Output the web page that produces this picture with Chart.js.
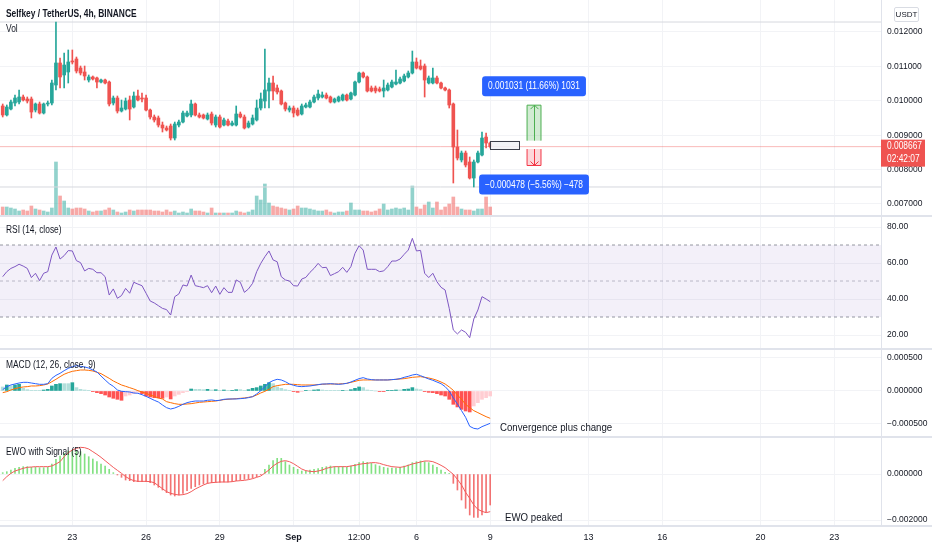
<!DOCTYPE html>
<html lang="en">
<head>
<meta charset="UTF-8">
<title>Selfkey / TetherUS, 4h</title>
<script src="https://cdn.jsdelivr.net/npm/chart.js"></script>
<style>
  body { margin: 0; background: #fff; color: #131722;
         font-family: 'Liberation Sans', Arial, sans-serif; }
  #wrap { position: relative; width: 932px; height: 550px; overflow: hidden; }
  canvas { position: absolute; left: 0; }
  .sep { position: absolute; left: 0; width: 932px; height: 2px; background: #e0e3eb; }
  .txt { position: absolute; white-space: nowrap; font-size: 10px; line-height: 12px;
         transform: scaleX(0.84); transform-origin: 0 0; }
  #usdt { position: absolute; left: 894px; top: 7px; width: 23px; height: 13px; border: 1px solid #d9dce3;
          border-radius: 2px; font-size: 8px; line-height: 13px; text-align: center; color: #131722; }
</style>
</head>
<body>
<div id="wrap">
  <canvas id="cPrice" width="932" height="215" style="top:0"></canvas>
  <div class="sep" style="top:215px"></div>
  <canvas id="cRsi" width="932" height="131" style="top:217px"></canvas>
  <div class="sep" style="top:348px"></div>
  <canvas id="cMacd" width="932" height="86" style="top:350px"></canvas>
  <div class="sep" style="top:436px"></div>
  <canvas id="cEwo" width="932" height="112" style="top:438px"></canvas>
  <div class="sep" style="top:525px"></div>

  <div class="txt" style="left:6px; top:8px; font-weight:bold;">Selfkey / TetherUS, 4h, BINANCE</div>
  <div class="txt" style="left:6px; top:23px;">Vol</div>
  <div class="txt" style="left:6px; top:224px;">RSI (14, close)</div>
  <div class="txt" style="left:6px; top:359px;">MACD (12, 26, close, 9)</div>
  <div class="txt" style="left:6px; top:446px;">EWO with Signal (5)</div>
  <div class="txt" style="left:500px; top:420px; font-size:11.5px; line-height:14px;">Convergence plus change</div>
  <div class="txt" style="left:505px; top:510px; font-size:11.5px; line-height:14px;">EWO peaked</div>
  <div id="usdt">USDT</div>
</div>

<script>
// 4h candles, Aug 19 -> Sep 9 (index 0 .. 119)
const open = [
  0.009849, 0.009587, 0.009761, 0.009936, 0.009965, 0.010110, 0.010052, 0.010052, 0.009732, 0.009907,
  0.009645, 0.009907, 0.009936, 0.010459, 0.011099, 0.010750, 0.010837, 0.011157, 0.011215, 0.010953,
  0.010837, 0.010604, 0.010692, 0.010663, 0.010546, 0.010604, 0.010546, 0.009936, 0.010081, 0.009703,
  0.009761, 0.010023, 0.009819, 0.010139, 0.010081, 0.010081, 0.009732, 0.009529, 0.009500, 0.009296,
  0.009209, 0.009267, 0.008918, 0.009296, 0.009383, 0.009558, 0.009587, 0.009907, 0.009587, 0.009587,
  0.009471, 0.009616, 0.009296, 0.009529, 0.009296, 0.009412, 0.009296, 0.009296, 0.009616, 0.009529,
  0.009238, 0.009325, 0.009442, 0.009790, 0.009994, 0.010285, 0.010517, 0.010372, 0.010285, 0.009936,
  0.009732, 0.009790, 0.009732, 0.009616, 0.009819, 0.009819, 0.009965, 0.010081, 0.010110, 0.010168,
  0.010110, 0.009965, 0.009994, 0.010023, 0.010168, 0.010052, 0.010168, 0.010546, 0.010808, 0.010692,
  0.010372, 0.010372, 0.010343, 0.010285, 0.010314, 0.010401, 0.010488, 0.010517, 0.010575, 0.010692,
  0.010808, 0.011128, 0.011011, 0.011011, 0.010517, 0.010517, 0.010663, 0.010517, 0.010372, 0.010314,
  0.009907, 0.008657, 0.008279, 0.008482, 0.008221, 0.007755, 0.008221, 0.008424, 0.008947, 0.008773
];
const high = [
  0.009907, 0.009878, 0.010023, 0.010168, 0.010314, 0.010168, 0.010110, 0.010110, 0.009936, 0.009965,
  0.009936, 0.009994, 0.010604, 0.012290, 0.011244, 0.011389, 0.011477, 0.011477, 0.011273, 0.011011,
  0.011011, 0.010750, 0.010721, 0.010692, 0.010634, 0.010634, 0.010575, 0.010139, 0.010139, 0.010023,
  0.010081, 0.010139, 0.010256, 0.010314, 0.010227, 0.010168, 0.009761, 0.009587, 0.009558, 0.009383,
  0.009267, 0.009325, 0.009383, 0.009442, 0.009703, 0.009703, 0.010023, 0.009936, 0.009645, 0.009616,
  0.009645, 0.009674, 0.009587, 0.009587, 0.009500, 0.009471, 0.009412, 0.009849, 0.009674, 0.009587,
  0.009412, 0.009587, 0.010023, 0.010227, 0.011506, 0.010663, 0.010721, 0.010459, 0.010314, 0.009965,
  0.009849, 0.009849, 0.009790, 0.009907, 0.009936, 0.010023, 0.010168, 0.010314, 0.010256, 0.010227,
  0.010139, 0.010081, 0.010139, 0.010197, 0.010197, 0.010256, 0.010575, 0.010837, 0.010837, 0.010721,
  0.010430, 0.010430, 0.010401, 0.010604, 0.010517, 0.010604, 0.010895, 0.010692, 0.010779, 0.010866,
  0.011447, 0.011244, 0.011186, 0.011070, 0.010721, 0.010953, 0.010721, 0.010546, 0.010401, 0.010343,
  0.009936, 0.009151, 0.008540, 0.008540, 0.008366, 0.008279, 0.008540, 0.009093, 0.009064, 0.008802
];
const low = [
  0.009529, 0.009558, 0.009732, 0.009849, 0.009907, 0.009994, 0.009936, 0.009500, 0.009674, 0.009616,
  0.009616, 0.009849, 0.009878, 0.010314, 0.010372, 0.010372, 0.010517, 0.011070, 0.010808, 0.010750,
  0.010604, 0.010546, 0.010604, 0.010372, 0.010517, 0.010488, 0.009849, 0.009878, 0.009645, 0.009674,
  0.009732, 0.009442, 0.009790, 0.009994, 0.009965, 0.009703, 0.009471, 0.009383, 0.009238, 0.009093,
  0.009122, 0.008860, 0.008860, 0.009238, 0.009354, 0.009529, 0.009529, 0.009558, 0.009500, 0.009471,
  0.009442, 0.009296, 0.009238, 0.009209, 0.009267, 0.009267, 0.009267, 0.009267, 0.009500, 0.009180,
  0.009209, 0.009296, 0.009412, 0.009732, 0.009790, 0.009790, 0.010023, 0.010197, 0.009878, 0.009703,
  0.009674, 0.009529, 0.009558, 0.009587, 0.009790, 0.009790, 0.009936, 0.010023, 0.010081, 0.010052,
  0.009936, 0.009936, 0.009965, 0.009994, 0.009994, 0.010023, 0.010139, 0.010517, 0.010663, 0.010256,
  0.010256, 0.010227, 0.010256, 0.010110, 0.010285, 0.010372, 0.010459, 0.010488, 0.010546, 0.010663,
  0.010779, 0.010924, 0.010895, 0.010110, 0.010488, 0.010488, 0.010488, 0.010343, 0.010285, 0.009790,
  0.007610, 0.008279, 0.008221, 0.008076, 0.007726, 0.007494, 0.008192, 0.008395, 0.008628, 0.008628
];
const close = [
  0.009587, 0.009819, 0.009965, 0.010081, 0.010110, 0.010023, 0.009994, 0.009674, 0.009907, 0.009645,
  0.009907, 0.009936, 0.010517, 0.011099, 0.010692, 0.011040, 0.011128, 0.011128, 0.010866, 0.010808,
  0.010721, 0.010692, 0.010634, 0.010546, 0.010604, 0.010517, 0.009907, 0.010081, 0.009703, 0.009790,
  0.009994, 0.009761, 0.010139, 0.010023, 0.010052, 0.009732, 0.009529, 0.009442, 0.009296, 0.009209,
  0.009151, 0.008918, 0.009325, 0.009383, 0.009645, 0.009645, 0.009907, 0.009587, 0.009529, 0.009500,
  0.009587, 0.009354, 0.009529, 0.009238, 0.009442, 0.009296, 0.009354, 0.009616, 0.009529, 0.009209,
  0.009354, 0.009500, 0.009790, 0.010052, 0.010314, 0.010517, 0.010285, 0.010256, 0.009907, 0.009761,
  0.009790, 0.009645, 0.009587, 0.009849, 0.009878, 0.009965, 0.010110, 0.010197, 0.010168, 0.010081,
  0.009965, 0.010052, 0.010110, 0.010168, 0.010023, 0.010227, 0.010546, 0.010808, 0.010692, 0.010285,
  0.010285, 0.010285, 0.010285, 0.010372, 0.010459, 0.010546, 0.010546, 0.010634, 0.010721, 0.010808,
  0.011128, 0.010953, 0.010924, 0.010604, 0.010663, 0.010663, 0.010517, 0.010372, 0.010314, 0.009878,
  0.008657, 0.008337, 0.008482, 0.008134, 0.007755, 0.008221, 0.008482, 0.008918, 0.008773, 0.008667
];
// volume, millions KEY
const volume = [
  8, 8, 7, 6, 4, 5, 4, 9, 6, 5,
  4, 3, 7, 53, 19, 14, 7, 6, 7, 7,
  6, 4, 3, 4, 4, 5, 7, 5, 3, 2,
  3, 5, 4, 5, 5, 5, 5, 4, 4, 3,
  5, 3, 4, 2, 3, 2, 6, 4, 4, 3,
  2, 7, 2, 2, 2, 2, 2, 4, 3, 2,
  3, 5, 19, 15, 31, 12, 9, 8, 7, 6,
  5, 6, 9, 7, 7, 6, 5, 4, 4, 5,
  3, 2, 3, 3, 4, 12, 5, 5, 4, 4,
  3, 4, 6, 11, 5, 6, 7, 6, 7, 5,
  29, 8, 6, 10, 13, 7, 13, 5, 8, 11,
  18, 8, 6, 5, 5, 4, 6, 6, 18, 8
];
const rsi = [
  52.4, 55.2, 57.0, 58.0, 59.3, 58.3, 57.0, 51.9, 54.3, 50.2,
  54.3, 55.2, 64.4, 68.9, 62.2, 64.1, 66.9, 66.7, 61.3, 60.2,
  55.6, 57.0, 56.5, 54.6, 54.6, 52.4, 42.2, 45.6, 40.4, 41.9,
  45.9, 43.2, 49.3, 48.3, 47.4, 43.2, 38.9, 37.8, 36.3, 34.8,
  34.1, 31.1, 41.3, 42.8, 47.8, 47.2, 53.3, 47.4, 46.9, 46.3,
  47.4, 43.5, 47.2, 42.6, 46.3, 43.7, 43.7, 50.6, 49.3, 43.7,
  45.6, 48.7, 55.2, 59.8, 63.5, 66.7, 61.7, 60.7, 52.4, 50.6,
  50.0, 47.4, 47.2, 51.1, 52.0, 54.8, 57.0, 59.8, 57.4, 57.6,
  53.0, 54.1, 55.2, 57.6, 54.8, 58.0, 65.4, 69.6, 67.2, 56.5,
  56.5, 56.5, 55.2, 55.6, 58.0, 61.1, 61.1, 62.2, 64.8, 67.2,
  73.7, 66.7, 67.0, 54.3, 51.9, 54.3, 49.6, 46.5, 45.0, 34.8,
  22.8, 20.6, 22.8, 21.5, 18.5, 28.9, 33.9, 41.3, 40.0, 38.5
];
// MACD values in units of 1e-6
const macdLine = [
  20, 66, 91, 106, 121, 131, 131, 121, 111, 101,
  101, 111, 192, 237, 268, 308, 343, 369, 384, 374,
  364, 348, 318, 288, 227, 167, 111, 71, 15, -5,
  -10, -15, -30, -35, -56, -81, -111, -141, -167, -212,
  -253, -273, -258, -232, -202, -177, -162, -152, -152, -152,
  -141, -136, -146, -141, -126, -121, -121, -121, -116, -111,
  -101, -86, -45, 5, 66, 126, 157, 177, 167, 141,
  106, 86, 71, 66, 71, 76, 86, 96, 106, 106,
  111, 106, 101, 106, 116, 136, 162, 187, 202, 182,
  172, 167, 167, 167, 167, 172, 177, 187, 207, 222,
  242, 253, 232, 207, 182, 162, 136, 111, 66, 0,
  -106, -197, -298, -399, -535, -566, -576, -540, -515, -490
];
const macdSignal = [
  -25, -10, 15, 35, 50, 61, 66, 76, 76, 81,
  91, 106, 141, 177, 217, 253, 278, 298, 308, 318,
  318, 313, 303, 283, 263, 227, 192, 152, 121, 91,
  71, 50, 30, 5, -15, -35, -61, -81, -106, -121,
  -162, -177, -192, -202, -202, -197, -192, -182, -172, -167,
  -162, -157, -152, -141, -131, -126, -121, -116, -111, -106,
  -96, -86, -61, -30, -5, 25, 66, 81, 91, 101,
  101, 101, 96, 91, 91, 91, 91, 96, 101, 106,
  106, 106, 106, 111, 116, 131, 146, 162, 167, 167,
  167, 167, 167, 167, 167, 172, 177, 182, 187, 197,
  207, 212, 217, 207, 197, 182, 162, 136, 106, 61,
  10, -61, -126, -202, -253, -298, -328, -359, -389, -414
];
const macdHist = [
  61, 91, 76, 91, 101, 40, 20, 10, 10, 10,
  15, 25, 76, 101, 111, 111, 111, 126, 51, 25,
  15, 5, -10, -25, -40, -61, -91, -111, -126, -141,
  -76, -61, -40, -20, -40, -76, -91, -101, -106, -111,
  -91, -121, -76, -51, -25, -10, 30, 25, 25, 20,
  25, 15, 20, 10, 15, 5, 10, 20, 20, 10,
  20, 40, 51, 76, 101, 126, 111, 61, 40, 20,
  10, -10, -20, -10, 5, 5, 15, 20, 15, 10,
  10, 5, 5, 10, 10, 20, 40, 61, 51, 15,
  5, 0, -5, -5, 5, 10, 15, 15, 25, 30,
  51, 30, 20, -10, -20, -25, -40, -61, -76, -126,
  -202, -242, -278, -303, -318, -227, -177, -126, -101, -76
];
// Elliott Wave Oscillator, units of 1e-6
const ewoHist = [
  58, 101, 174, 246, 290, 319, 319, 290, 290, 275,
  275, 290, 435, 638, 782, 898, 1000, 1043, 1014, 971,
  869, 753, 652, 536, 435, 348, 203, 58, -43, -145,
  -261, -290, -333, -333, -333, -333, -377, -478, -580, -696,
  -811, -913, -956, -913, -840, -725, -623, -551, -478, -435,
  -406, -377, -362, -362, -348, -348, -319, -290, -261, -232,
  -217, -174, -116, -14, 203, 391, 580, 681, 681, 536,
  391, 290, 203, 130, 130, 174, 203, 232, 290, 319,
  348, 319, 319, 319, 290, 348, 420, 493, 536, 507,
  464, 406, 348, 290, 261, 261, 261, 290, 348, 391,
  493, 536, 565, 536, 493, 391, 290, 174, 72, 29,
  -406, -696, -1130, -1492, -1782, -1884, -1884, -1782, -1637, -1348
];
const ewoSignal = [
  -290, -116, 29, 130, 188, 246, 290, 304, 319, 319,
  319, 319, 348, 435, 536, 753, 927, 1043, 1116, 1159,
  1145, 1087, 971, 855, 725, 580, 435, 290, 159, 29,
  -116, -217, -290, -319, -319, -319, -333, -377, -507, -638,
  -768, -840, -884, -913, -898, -855, -768, -652, -565, -478,
  -406, -377, -362, -348, -348, -348, -333, -304, -290, -275,
  -246, -203, -145, -87, 43, 174, 348, 464, 551, 580,
  536, 449, 333, 217, 145, 116, 101, 130, 174, 246,
  290, 319, 319, 319, 319, 348, 377, 420, 449, 464,
  493, 493, 464, 406, 362, 319, 304, 290, 319, 377,
  435, 478, 522, 565, 565, 536, 464, 377, 275, 130,
  -14, -232, -478, -797, -1058, -1348, -1536, -1623, -1681, -1637
];

// time axis: candle index of each date label
const xTickPos = [17, 35, 53, 71, 87, 101, 119, 143, 161, 185, 203];
const xTickLabels = ['23', '26', '29', 'Sep', '12:00', '6', '9', '13', '16', '20', '23'];

const priceTicks = [0.007, 0.008, 0.009, 0.010, 0.011, 0.012];
const rsiTicks = [20, 40, 60, 80];
const macdTicks = [-0.0005, 0, 0.0005];
const ewoTicks = [-0.002, 0];

// horizontal lines drawn on the chart (swing high / swing low)
const hLevels = [0.012290, 0.007494];
const countdown = '02:42:07';
// price range measurements
const ranges = [
  { x0: 128, x1: 131.4, from: 0.008842, to: 0.009873, text: '0.001031 (11.66%) 1031' },
  { x0: 128, x1: 131.4, from: 0.008597, to: 0.008119, text: '\u22120.000478 (\u22125.56%) \u2212478' }
];
const posBox = { x0: 119, x1: 126.1, top: 0.008842, bottom: 0.008597 };

const X_MIN = -0.66, X_MAX = 214.4;
const FAMILY = "'Liberation Sans', Arial, sans-serif";
const SQUEEZE = 0.84;
const UP = '#26a69a', DOWN = '#ef5350';
const GRID = '#f2f3f6';

const idx = close.map((c, i) => i);
const lastClose = close[close.length - 1];
const minus = s => s.replace('-', '\u2212');

const candleColors = idx.map(i => close[i] >= open[i] ? UP : DOWN);
const volColors = idx.map(i => close[i] >= open[i] ? 'rgba(38,166,154,0.5)' : 'rgba(239,83,80,0.5)');
const macdColors = macdHist.map((v, i) => {
  const prev = i > 0 ? macdHist[i - 1] : v;
  if (v >= 0) return prev < v ? '#26a69a' : '#b2dfdb';
  return prev < v ? '#ffcdd2' : '#ff5252';
});
const ewoColors = ewoHist.map(v => v >= 0 ? 'rgba(90,215,90,0.75)' : 'rgba(240,80,80,0.8)');

function xAxis(labels) {
  return {
    type: 'linear', min: X_MIN, max: X_MAX, offset: false,
    afterBuildTicks: s => { s.ticks = xTickPos.map(v => ({ value: v })); },
    afterFit: s => { s.height = labels ? 25 : 0; s.paddingLeft = 0; s.paddingRight = 0; },
    grid: { color: GRID, drawTicks: false, offset: false },
    border: { display: false },
    ticks: {
      display: labels, autoSkip: false, maxRotation: 0, padding: 7, color: '#131722',
      font: c => ({ family: FAMILY, size: 9, weight: c.index === 3 ? 'bold' : 'normal' }),
      callback: (v, i) => xTickLabels[i]
    }
  };
}

function yAxis(min, max, ticks, fmt) {
  return {
    position: 'right', min: min, max: max,
    afterFit: s => { s.width = 51; s.paddingTop = 0; s.paddingBottom = 0; },
    afterBuildTicks: s => { s.ticks = ticks.map(v => ({ value: v })); },
    grid: { color: GRID, drawTicks: false },
    border: { display: true, color: '#e0e3eb' },
    ticks: { padding: 6, color: '#131722', font: { family: FAMILY, size: 8.5 }, callback: fmt }
  };
}

function hline(y, color, dash) {
  return {
    type: 'line', data: [{ x: X_MIN, y: y }, { x: X_MAX, y: y }],
    borderColor: color, borderWidth: 1, borderDash: dash || [], pointRadius: 0
  };
}

const common = {
  responsive: false, animation: false, events: [],
  layout: { padding: 0, autoPadding: false },
  plugins: { legend: { display: false }, tooltip: { enabled: false } }
};

function roundRect(ctx, x, y, w, h, r) {
  ctx.beginPath();
  ctx.moveTo(x + r, y);
  ctx.arcTo(x + w, y, x + w, y + h, r);
  ctx.arcTo(x + w, y + h, x, y + h, r);
  ctx.arcTo(x, y + h, x, y, r);
  ctx.arcTo(x, y, x + w, y, r);
  ctx.closePath();
}

// narrow text, same look as the html labels
function squeezedText(ctx, text, x, y, align) {
  ctx.save();
  ctx.translate(x, y);
  ctx.scale(SQUEEZE, 1);
  ctx.textAlign = align;
  ctx.fillText(text, 0, 0);
  ctx.restore();
}

const drawings = {
  id: 'drawings',
  afterDatasetsDraw(chart) {
    const { ctx, scales: { x, y } } = chart;
    ctx.save();
    // entry box
    const bx0 = x.getPixelForValue(posBox.x0), bx1 = x.getPixelForValue(posBox.x1);
    const by0 = y.getPixelForValue(posBox.top), by1 = y.getPixelForValue(posBox.bottom);
    ctx.fillStyle = 'rgba(240,241,245,0.9)';
    ctx.fillRect(bx0, by0, bx1 - bx0, by1 - by0);
    ctx.strokeStyle = '#3a3d48';
    ctx.lineWidth = 1;
    ctx.strokeRect(Math.round(bx0) + 0.5, Math.round(by0) + 0.5, Math.round(bx1 - bx0), Math.round(by1 - by0));

    ranges.forEach(r => {
      const up = r.to > r.from;
      const col = up ? '#4caf50' : '#f23645';
      const x0 = x.getPixelForValue(r.x0), x1 = x.getPixelForValue(r.x1);
      const yf = y.getPixelForValue(r.from), yt = y.getPixelForValue(r.to);
      const top = Math.min(yf, yt), h = Math.abs(yt - yf);
      ctx.fillStyle = up ? 'rgba(76,175,80,0.25)' : 'rgba(242,54,69,0.2)';
      ctx.fillRect(x0, top, x1 - x0, h);
      ctx.strokeStyle = col;
      ctx.beginPath();
      ctx.moveTo(x0, yt); ctx.lineTo(x1, yt);
      ctx.moveTo(x0, top); ctx.lineTo(x0, top + h);
      ctx.moveTo(x1, top); ctx.lineTo(x1, top + h);
      const cx = Math.round((x0 + x1) / 2) + 0.5;
      ctx.moveTo(cx, yf); ctx.lineTo(cx, yt);
      const d = up ? 4 : -4;
      ctx.moveTo(cx - 4, yt + d); ctx.lineTo(cx, yt); ctx.lineTo(cx + 4, yt + d);
      ctx.stroke();

      // label
      ctx.font = '10px ' + FAMILY;
      const tw = ctx.measureText(r.text).width * SQUEEZE;
      const lw = tw + 12, lh = 20;
      const lx = (x0 + x1) / 2 - lw / 2;
      const ly = up ? top - 9 - lh : top + h + 9;
      ctx.fillStyle = '#2962ff';
      roundRect(ctx, lx, ly, lw, lh, 3);
      ctx.fill();
      ctx.fillStyle = '#ffffff';
      ctx.textBaseline = 'middle';
      squeezedText(ctx, r.text, lx + lw / 2, ly + lh / 2 + 0.5, 'center');
    });
    ctx.restore();
  },
  afterDraw(chart) {
    const { ctx, scales: { y } } = chart;
    const py = y.getPixelForValue(lastClose);
    ctx.save();
    ctx.fillStyle = '#ef5350';
    ctx.fillRect(y.left, py - 7, 44, 27);
    ctx.fillStyle = '#ffffff';
    ctx.font = '10px ' + FAMILY;
    ctx.textBaseline = 'middle';
    squeezedText(ctx, lastClose.toFixed(6), y.left + 6, py, 'left');
    squeezedText(ctx, countdown, y.left + 6, py + 13, 'left');
    ctx.restore();
  }
};

// price + volume
new Chart(document.getElementById('cPrice'), {
  type: 'bar',
  data: {
    datasets: [
      { type: 'bar', data: idx.map(i => ({ x: i, y: [open[i], close[i]] })), backgroundColor: candleColors,
        barThickness: 3, minBarLength: 1, grouped: false, order: 0 },
      { type: 'bar', data: idx.map(i => ({ x: i, y: [low[i], high[i]] })), backgroundColor: candleColors,
        barThickness: 1, grouped: false, order: 1 },
      Object.assign(hline(lastClose, 'rgba(239,83,80,0.4)'), { order: 2 }),
      Object.assign(hline(hLevels[0], '#d6d8de'), { order: 3 }),
      Object.assign(hline(hLevels[1], '#d6d8de'), { order: 3 }),
      { type: 'bar', data: idx.map(i => ({ x: i, y: volume[i] })), yAxisID: 'vol', backgroundColor: volColors,
        barThickness: 3, grouped: false, order: 5 }
    ]
  },
  options: Object.assign({}, common, {
    scales: {
      x: xAxis(false),
      y: yAxis(0.006680, 0.012930, priceTicks, v => v.toFixed(6)),
      vol: { display: false, min: 0, max: 215 }
    }
  }),
  plugins: [drawings]
});

// RSI
new Chart(document.getElementById('cRsi'), {
  type: 'line',
  data: {
    datasets: [
      { data: idx.map(i => ({ x: i, y: rsi[i] })), borderColor: '#7e57c2', borderWidth: 1, pointRadius: 0, order: 0 },
      Object.assign(hline(70, '#9598a1', [3, 3]), { fill: { value: 30 }, backgroundColor: 'rgba(126,87,194,0.09)', order: 1 }),
      Object.assign(hline(50, 'rgba(149,152,161,0.6)', [3, 3]), { order: 1 }),
      Object.assign(hline(30, '#9598a1', [3, 3]), { order: 1 })
    ]
  },
  options: Object.assign({}, common, {
    scales: {
      x: xAxis(false),
      y: yAxis(12.78, 85.56, rsiTicks, v => v.toFixed(2))
    }
  })
});

// MACD
new Chart(document.getElementById('cMacd'), {
  type: 'bar',
  data: {
    datasets: [
      { type: 'line', data: idx.map(i => ({ x: i, y: macdLine[i] * 1e-6 })), borderColor: '#2962ff', borderWidth: 1, pointRadius: 0, order: 0 },
      { type: 'line', data: idx.map(i => ({ x: i, y: macdSignal[i] * 1e-6 })), borderColor: '#ff6d00', borderWidth: 1, pointRadius: 0, order: 1 },
      { type: 'bar', data: idx.map(i => ({ x: i, y: macdHist[i] * 1e-6 })), backgroundColor: macdColors,
        barThickness: 3, grouped: false, order: 2 }
    ]
  },
  options: Object.assign({}, common, {
    scales: {
      x: xAxis(false),
      y: yAxis(-0.000682, 0.000621, macdTicks, v => minus(v.toFixed(6)))
    }
  })
});

// EWO
new Chart(document.getElementById('cEwo'), {
  type: 'bar',
  data: {
    datasets: [
      { type: 'line', data: idx.map(i => ({ x: i, y: ewoSignal[i] * 1e-6 })), borderColor: '#f25a5a', borderWidth: 1, pointRadius: 0, order: 0 },
      { type: 'bar', data: idx.map(i => ({ x: i, y: ewoHist[i] * 1e-6 })), backgroundColor: ewoColors,
        barThickness: 1, grouped: false, order: 1 }
    ]
  },
  options: Object.assign({}, common, {
    scales: {
      x: xAxis(true),
      y: yAxis(-0.002217, 0.001565, ewoTicks, v => minus(v.toFixed(6)))
    }
  })
});
</script>
</body>
</html>
